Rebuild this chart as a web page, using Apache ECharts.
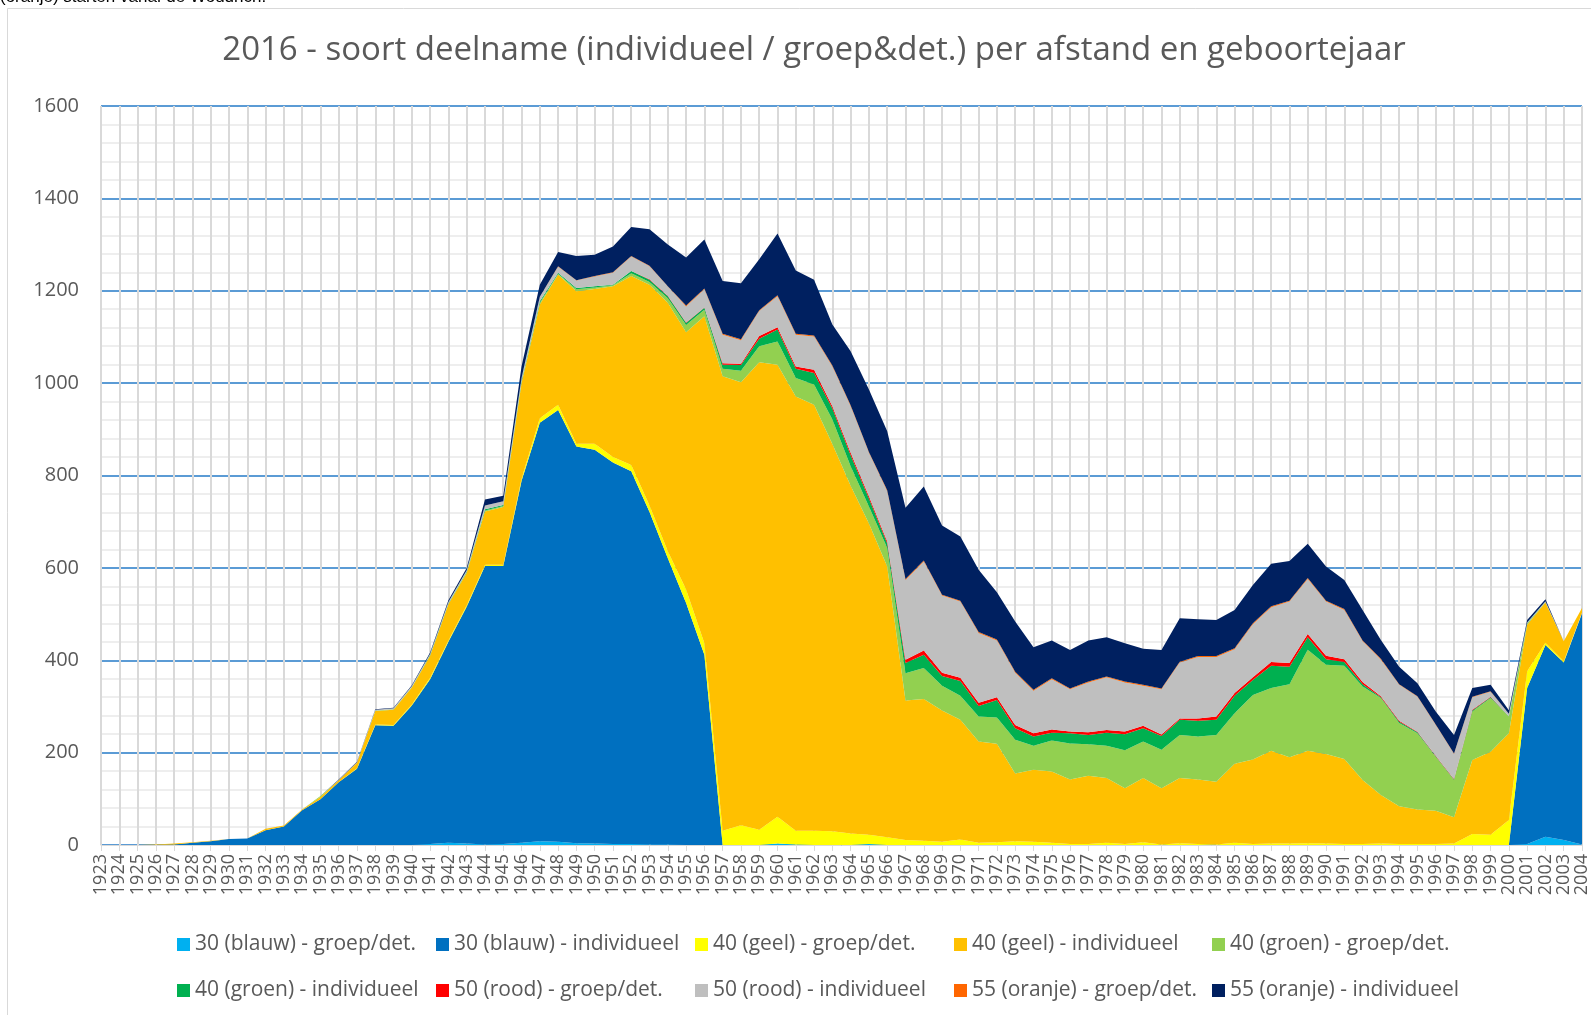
<!DOCTYPE html>
<html>
<head>
<meta charset="utf-8">
<title>2016 - soort deelname</title>
<script src="https://cdn.jsdelivr.net/npm/echarts@6/dist/echarts.min.js"></script>
<style>
  html, body { margin: 0; padding: 0; background: #fff; }
  #chart { width: 1591px; height: 1015px; }
</style>
</head>
<body>
<div id="chart"></div>
<script>
// geboortejaren (categorie-as)
const years = [
  '1923','1924','1925','1926','1927','1928','1929','1930','1931','1932',
  '1933','1934','1935','1936','1937','1938','1939','1940','1941','1942',
  '1943','1944','1945','1946','1947','1948','1949','1950','1951','1952',
  '1953','1954','1955','1956','1957','1958','1959','1960','1961','1962',
  '1963','1964','1965','1966','1967','1968','1969','1970','1971','1972',
  '1973','1974','1975','1976','1977','1978','1979','1980','1981','1982',
  '1983','1984','1985','1986','1987','1988','1989','1990','1991','1992',
  '1993','1994','1995','1996','1997','1998','1999','2000','2001','2002',
  '2003','2004'
];

// aantallen per jaar, 1923 t/m 2004
const blauwGroep = [
  0,0,0,0,0,0,0,0,0,0, 0,0,0,0,0,0,0,0,2,5,
  3,1,2,5,8,7,4,3,2,2, 1,1,0,0,0,0,0,3,1,0,
  0,0,2,0,0,0,0,0,0,0, 0,0,0,0,0,0,0,0,0,0,
  0,0,0,0,0,0,0,0,0,0, 0,0,0,0,0,0,0,0,2,18,
  11,1
];
const blauwIndiv = [
  0,0,0,0,1,5,8,13,14,32, 40,75,99,136,165,259,258,302,357,435,
  513,603,602,783,906,935,859,853,826,807, 720,620,524,412,0,0,0,0,0,0,
  0,0,0,0,0,0,0,0,0,0, 0,0,0,0,0,0,0,0,0,0,
  0,0,0,0,0,0,0,0,0,0, 0,0,0,0,0,0,0,0,338,415,
  384,500
];
const geelGroep = [
  0,0,0,0,0,0,0,0,0,0, 0,0,0,0,1,2,2,2,3,3,
  3,3,3,5,10,11,6,13,12,14, 14,15,29,25,31,43,33,58,30,31,
  30,25,20,17,11,9,7,12,5,6, 8,7,5,2,2,5,2,6,1,4,
  2,1,5,2,3,3,4,3,2,2, 3,2,2,2,3,24,22,54,36,5,
  3,2
];
const geelIndiv = [
  0,0,0,1,2,1,1,0,0,3, 2,2,5,4,12,29,33,37,48,78,
  70,115,125,207,246,282,330,335,370,409, 478,538,557,708,984,959,1012,979,940,922,
  838,753,674,586,302,307,284,259,219,213, 147,156,154,140,148,140,121,139,122,141,
  140,136,171,183,201,187,200,194,184,139, 105,82,75,72,57,160,180,188,101,87,
  43,10
];
const groenGroep = [
  0,0,0,0,0,0,0,0,0,0, 0,0,2,0,0,1,1,1,1,1,
  2,2,2,3,4,2,4,3,2,6, 6,10,16,14,16,25,35,50,40,44,
  53,42,37,40,59,67,54,52,54,57, 73,52,67,78,68,70,82,79,83,93,
  93,101,109,140,136,158,219,193,202,202, 210,180,165,117,81,105,116,36,2,1,
  0,0
];
const groenIndiv = [
  0,0,0,0,0,0,0,0,0,0, 0,0,0,0,0,0,0,0,1,1,
  1,3,2,2,3,2,3,3,1,5, 5,4,4,4,9,12,16,26,20,25,
  24,24,17,10,22,29,21,32,23,38, 25,20,17,22,20,28,35,29,30,33,
  34,33,38,32,48,38,27,12,8,5, 2,3,2,1,1,2,2,1,1,0,
  0,0
];
const roodGroep = [
  0,0,0,0,0,0,0,0,0,0, 0,0,0,0,0,0,0,0,0,0,
  0,0,0,0,0,0,0,0,0,0, 1,1,1,1,3,3,6,5,5,7,
  5,5,5,4,7,9,7,7,7,6, 7,7,7,4,6,6,6,5,3,3,
  5,7,6,6,8,8,7,8,6,5, 2,2,1,1,1,2,1,0,0,0,
  0,0
];
const roodIndiv = [
  0,0,0,0,0,0,0,0,0,0, 0,0,0,1,1,2,2,2,2,3,
  3,8,8,6,10,13,16,21,26,31, 28,20,35,39,62,51,54,67,69,72,
  86,101,94,109,173,193,167,165,151,123, 113,92,109,91,108,114,106,87,98,121,
  133,129,95,115,119,133,119,117,107,88, 79,78,76,67,54,27,11,5,2,2,
  0,0
];
const oranjeGroep = [
  0,0,0,0,0,0,0,0,0,0, 0,0,0,0,0,0,0,0,0,0,
  0,0,0,0,0,1,1,1,1,1, 1,1,2,2,2,2,2,2,2,2,
  2,2,2,2,2,2,2,2,2,2, 2,2,2,2,2,2,2,2,2,2,
  2,2,2,2,2,2,2,2,2,2, 2,1,1,1,1,1,1,0,0,0,
  0,0
];
const oranjeIndiv = [
  0,0,0,0,0,0,0,0,0,0, 0,0,0,1,1,1,1,2,3,4,
  5,13,12,25,26,31,52,46,56,63, 79,90,104,106,114,121,110,134,137,121,
  89,117,135,128,154,160,150,139,135,102, 109,92,82,83,89,85,83,78,83,94,
  80,78,83,83,92,86,74,74,63,66, 41,38,28,28,40,19,14,8,5,4,
  0,0
];

const seriesNames = [
  '30 (blauw) - groep/det.', '30 (blauw) - individueel',
  '40 (geel) - groep/det.', '40 (geel) - individueel',
  '40 (groen) - groep/det.', '40 (groen) - individueel',
  '50 (rood) - groep/det.', '50 (rood) - individueel',
  '55 (oranje) - groep/det.', '55 (oranje) - individueel'
];
const seriesValues = [blauwGroep, blauwIndiv, geelGroep, geelIndiv, groenGroep,
  groenIndiv, roodGroep, roodIndiv, oranjeGroep, oranjeIndiv];
const colors = ['#00b0f0', '#0070c0', '#ffff00', '#ffc000', '#92d050',
  '#00b050', '#ff0000', '#bfbfbf', '#ff6600', '#002060'];

// legenda: 2 rijen van 5
const legendLeft = [177, 436, 695, 954, 1212];
const legendTop = [934, 980];

const chart = echarts.init(document.getElementById('chart'));

const option = {
  animation: false,
  backgroundColor: '#fff',
  textStyle: { fontFamily: 'Open Sans' },
  graphic: [
    {
      type: 'rect',
      shape: { x: 7.5, y: 8.5, width: 1700, height: 1200 },
      style: { fill: 'none', stroke: '#d9d9d9', lineWidth: 1 },
      silent: true
    },
    {
      type: 'text',
      x: 0, y: 6,
      style: {
        text: '(oranje) starten vanaf de Woudrich.',
        font: '17px "Liberation Sans"',
        fill: '#000',
        verticalAlign: 'bottom'
      }
    },
    {
      type: 'text',
      x: 814, y: 51,
      style: {
        text: '2016 - soort deelname (individueel / groep&det.) per afstand en geboortejaar',
        font: '33px "Open Sans"',
        fill: '#595959',
        align: 'center',
        verticalAlign: 'middle'
      }
    }
  ],
  legend: seriesNames.map((n, i) => ({
    data: [n],
    left: legendLeft[i % 5],
    top: legendTop[Math.floor(i / 5)],
    padding: 0,
    icon: 'rect',
    itemWidth: 13,
    itemHeight: 13,
    selectedMode: false,
    textStyle: { color: '#595959', fontSize: 21, fontFamily: 'Open Sans' }
  })),
  grid: { left: 101, right: 4, top: 106, bottom: 170 },
  xAxis: {
    type: 'category',
    data: years,
    boundaryGap: false,
    axisLine: { lineStyle: { color: '#d9d9d9', width: 1 } },
    axisTick: { show: true, interval: 0, length: 6, lineStyle: { color: '#d9d9d9' } },
    axisLabel: { interval: 0, rotate: 90, color: '#595959', fontSize: 18, margin: 9 },
    splitLine: { show: true, interval: 0, lineStyle: { color: '#d9d9d9', width: 2 } }
  },
  yAxis: {
    type: 'value',
    min: 0,
    max: 1600,
    interval: 200,
    axisLine: { show: false },
    axisTick: { show: false },
    axisLabel: { color: '#595959', fontSize: 20, margin: 22, formatter: v => String(v) },
    splitLine: { lineStyle: { color: '#5b9bd5', width: 2 } },
    minorTick: { show: false, splitNumber: 5 },
    minorSplitLine: { show: true, lineStyle: { color: '#eeeeee', width: 2 } }
  },
  series: seriesNames.map((n, i) => ({
    name: n,
    type: 'line',
    stack: 'totaal',
    data: seriesValues[i],
    symbol: 'none',
    showSymbol: false,
    lineStyle: { width: 0 },
    itemStyle: { color: colors[i] },
    areaStyle: { color: colors[i], opacity: 1 },
    emphasis: { disabled: true }
  }))
};

chart.setOption(option);
</script>
</body>
</html>
